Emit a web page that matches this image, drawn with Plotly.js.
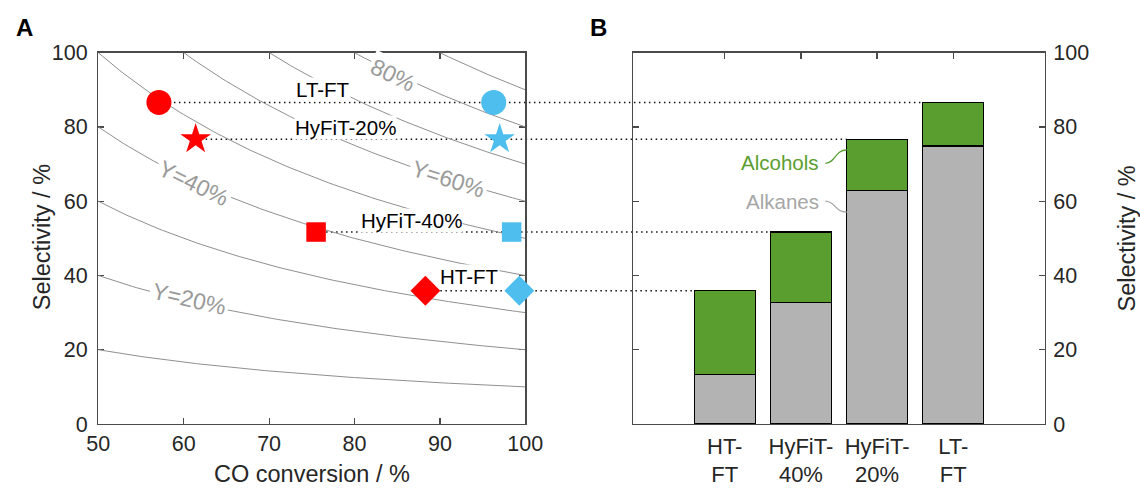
<!DOCTYPE html>
<html>
<head>
<meta charset="utf-8">
<script src="https://cdn.plot.ly/plotly-3.0.1.min.js"></script>
<style>
  html, body { margin: 0; padding: 0; background: #fff; }
  #chart { width: 1140px; height: 488px; }
</style>
</head>
<body>
<div id="chart"></div>
<script>
// Process variants (same order in both panels)
const processes = ['HT-FT', 'HyFiT-40%', 'HyFiT-20%', 'LT-FT'];
const barTickLabels = ['HT-<br>FT', 'HyFiT-<br>40%', 'HyFiT-<br>20%', 'LT-<br>FT'];

// Product selectivity split, %
const alkanes = [13.4, 32.7, 62.9, 74.9];
const alcohols = [22.5, 19.0, 13.8, 11.7];

// CO conversion, % (single pass vs. overall)
const convSinglePass = [88.3, 75.5, 61.4, 57.1];
const convOverall = [99.3, 98.4, 97.0, 96.3];

// Iso-yield levels (Y = X * S), %
const yieldLevels = [10, 20, 30, 40, 50, 60, 70, 80, 90];
const yieldLabelTexts = ['Y=20%', 'Y=40%', 'Y=60%', '80%'];

const selectivity = alkanes.map((a, i) => +(a + alcohols[i]).toFixed(1));

// ---- styling ----
const FONT = 'Liberation Sans, Arial, Helvetica, sans-serif';
const INK = '#262626';
const RED = '#ff0000';
const BLUE = '#4dbeee';
const GREEN = '#5a9e2f';
const GREY = '#b3b3b3';
const markerSymbols = ['diamond', 'square', 'star', 'circle'];
const markerSizes = [23, 19.5, 23, 25];

const W = 1140, H = 488;
const domA = [98.3 / W, 525.3 / W];
const domB = [633.3 / W, 1044.7 / W];
const domY = [64 / H, 435.3 / H];
const rangeA = [50, 100];
const rangeB = [-0.2, 5.2];
const barX = processes.map((_, i) => i + 1);
const barWidth = 0.8;

function paperFromA(x) {
  return domA[0] + (x - rangeA[0]) / (rangeA[1] - rangeA[0]) * (domA[1] - domA[0]);
}
function paperFromB(x) {
  return domB[0] + (x - rangeB[0]) / (rangeB[1] - rangeB[0]) * (domB[1] - domB[0]);
}

const traces = [];

// iso-yield curves S = 100*Y/X
const xs = [];
for (let x = 50; x <= 100.0001; x += 0.5) xs.push(x);
yieldLevels.forEach(Y => {
  traces.push({
    type: 'scatter', mode: 'lines', xaxis: 'x', yaxis: 'y',
    x: xs, y: xs.map(x => 100 * Y / x),
    line: { color: '#8f8f8f', width: 1 },
    hoverinfo: 'skip', showlegend: false
  });
});

// markers: single pass (red) and overall (blue)
[[convSinglePass, RED], [convOverall, BLUE]].forEach(([conv, col]) => {
  traces.push({
    type: 'scatter', mode: 'markers', xaxis: 'x', yaxis: 'y',
    x: conv, y: selectivity, cliponaxis: false,
    marker: { color: col, opacity: 1, symbol: markerSymbols, size: markerSizes, line: { width: 0 } },
    showlegend: false
  });
});

// stacked bars
traces.push({
  type: 'bar', xaxis: 'x2', yaxis: 'y2', x: barX, y: alkanes, width: barWidth,
  marker: { color: GREY, line: { color: '#000', width: 1.2 } }, showlegend: false, name: 'Alkanes'
});
traces.push({
  type: 'bar', xaxis: 'x2', yaxis: 'y2', x: barX, y: alcohols, width: barWidth,
  marker: { color: GREEN, line: { color: '#000', width: 1.2 } }, showlegend: false, name: 'Alcohols'
});

// dotted connectors from each red marker to its bar
const shapes = processes.map((_, i) => ({
  type: 'line', layer: 'below', xref: 'paper', yref: 'y',
  x0: paperFromA(convSinglePass[i]), x1: paperFromB(barX[i] - barWidth / 2),
  y0: selectivity[i], y1: selectivity[i],
  line: { color: '#111', width: 1.5, dash: '1.5px,3.5px' }
}));

// curly leaders for the bar legend labels
shapes.push({
  type: 'path', xref: 'x2', yref: 'y2', layer: 'above',
  path: 'M 2.32,70.2 C 2.46,70.3 2.44,73.8 2.6,73.8',
  line: { color: GREEN, width: 1.3 }
});
shapes.push({
  type: 'path', xref: 'x2', yref: 'y2', layer: 'above',
  path: 'M 2.32,60.0 C 2.46,59.9 2.44,57.1 2.6,57.1',
  line: { color: '#a6a6a6', width: 1.3 }
});

const annotations = [];

// iso-yield labels along their curves
const yieldLabelPos = [
  { x: 60.7, y: 33.8, angle: 13 },
  { x: 61.1, y: 64.8, angle: 26 },
  { x: 91.0, y: 66.1, angle: 17.5 },
  { x: 84.5, y: 94.0, angle: 26 }
];
yieldLabelTexts.forEach((t, i) => {
  const p = yieldLabelPos[i];
  annotations.push({
    xref: 'x', yref: 'y', x: p.x, y: p.y, text: t, showarrow: false,
    textangle: p.angle, bgcolor: '#fff', borderpad: 2,
    font: { family: FONT, size: 23, color: '#9a9a9a' }
  });
});

// process labels on panel A
const procLabelPos = [
  { x: 93.5, y: 39.6 },
  { x: 86.7, y: 54.9 },
  { x: 78.9, y: 79.9 },
  { x: 76.3, y: 90.2 }
];
processes.forEach((p, i) => {
  annotations.push({
    xref: 'x', yref: 'y', x: procLabelPos[i].x, y: procLabelPos[i].y, text: p,
    showarrow: false, bgcolor: '#fff', borderpad: 0,
    font: { family: FONT, size: 20.5, color: '#000' }
  });
});

// bar legend labels
annotations.push({
  xref: 'x2', yref: 'y2', x: 2.26, y: 70.4, xanchor: 'right', text: 'Alcohols',
  showarrow: false, font: { family: FONT, size: 20.5, color: GREEN }
});
annotations.push({
  xref: 'x2', yref: 'y2', x: 2.26, y: 60.0, xanchor: 'right', text: 'Alkanes',
  showarrow: false, font: { family: FONT, size: 20.5, color: '#a6a6a6' }
});

// axis titles of panel A, set close to the tick labels
annotations.push({
  xref: 'paper', yref: 'paper', x: 41.7 / W, y: 1 - 237.5 / H, xanchor: 'center', yanchor: 'middle',
  textangle: -90, text: 'Selectivity / %', showarrow: false,
  font: { family: FONT, size: 23.5, color: INK }
});
annotations.push({
  xref: 'paper', yref: 'paper', x: 311.5 / W, y: 1 - 474 / H, xanchor: 'center', yanchor: 'middle',
  text: 'CO conversion / %', showarrow: false,
  font: { family: FONT, size: 23.5, color: INK }
});

// panel letters
annotations.push({
  xref: 'paper', yref: 'paper', x: 24 / W, y: 1 - 28 / H, xanchor: 'center', yanchor: 'middle',
  text: '<b>A</b>', showarrow: false, font: { family: FONT, size: 24, color: '#000' }
});
annotations.push({
  xref: 'paper', yref: 'paper', x: 598 / W, y: 1 - 28 / H, xanchor: 'center', yanchor: 'middle',
  text: '<b>B</b>', showarrow: false, font: { family: FONT, size: 24, color: '#000' }
});

const axisCommon = {
  showgrid: false, zeroline: false, showline: true, linecolor: '#4a4a4a', linewidth: 1.3,
  ticks: 'inside', ticklen: 6, tickwidth: 1.2, tickcolor: '#4a4a4a', mirror: 'ticks',
  layer: 'below traces', fixedrange: true,
  tickfont: { family: FONT, size: 21.5, color: INK }
};

const layout = {
  width: W, height: H,
  margin: { l: 0, r: 0, t: 0, b: 0 },
  paper_bgcolor: '#fff', plot_bgcolor: 'rgba(0,0,0,0)',
  showlegend: false, barmode: 'stack', bargap: 0.2,
  font: { family: FONT, color: INK },
  xaxis: Object.assign({}, axisCommon, {
    domain: domA, range: rangeA, anchor: 'y', tickvals: [50, 60, 70, 80, 90, 100]
  }),
  yaxis: Object.assign({}, axisCommon, {
    domain: domY, range: [0, 100], anchor: 'x', tickvals: [0, 20, 40, 60, 80, 100],
    ticklabelstandoff: 5
  }),
  xaxis2: Object.assign({}, axisCommon, {
    domain: domB, range: rangeB, anchor: 'y2', tickvals: barX, ticktext: barTickLabels,
    tickfont: { family: FONT, size: 22, color: INK }, ticklabelstandoff: 2
  }),
  yaxis2: Object.assign({}, axisCommon, {
    domain: domY, range: [0, 100], anchor: 'x2', side: 'right', tickvals: [0, 20, 40, 60, 80, 100],
    ticklabelstandoff: 3,
    title: { text: 'Selectivity / %', font: { family: FONT, size: 23.5, color: INK }, standoff: 30 }
  }),
  shapes: shapes,
  annotations: annotations
};

Plotly.newPlot('chart', traces, layout, { displayModeBar: false, staticPlot: true });
</script>
</body>
</html>
